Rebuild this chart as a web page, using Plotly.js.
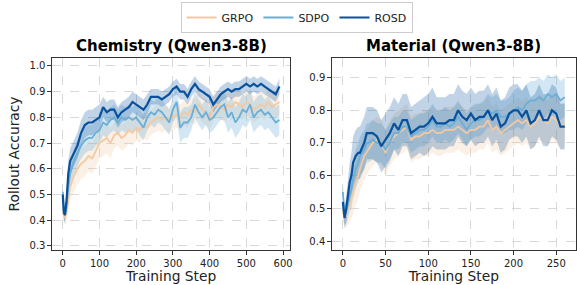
<!DOCTYPE html>
<html><head><meta charset="utf-8">
<script src="https://cdn.plot.ly/plotly-3.0.1.min.js"></script>
<style>body{margin:0;padding:0;background:#fff}#plot{width:577px;height:285px}</style>
</head><body><div id="plot"></div>
<script>
// ---- Chemistry (Qwen3-8B) ----
const chemSteps = [0,3,6,10,15,20,30,40,50,60,70,80,90,100,110,120,130,140,150,160,170,180,190,200,210,220,230,240,250,260,270,280,290,300,310,320,330,340,350,360,370,380,390,400,410,420,430,440,450,460,470,480,490,500,510,520,530,540,550,560,570,580,590];
const chemROSD = [0.50,0.43,0.42,0.47,0.58,0.63,0.66,0.69,0.74,0.77,0.78,0.78,0.79,0.80,0.84,0.82,0.83,0.83,0.80,0.82,0.83,0.84,0.86,0.85,0.84,0.83,0.85,0.88,0.88,0.88,0.87,0.88,0.89,0.91,0.92,0.90,0.90,0.88,0.91,0.93,0.91,0.90,0.89,0.88,0.85,0.87,0.89,0.90,0.91,0.90,0.91,0.91,0.92,0.93,0.92,0.93,0.92,0.93,0.92,0.91,0.90,0.89,0.92];
const chemSDPO = [0.51,0.44,0.42,0.45,0.53,0.58,0.63,0.66,0.69,0.71,0.72,0.72,0.74,0.75,0.78,0.77,0.79,0.80,0.78,0.80,0.79,0.80,0.79,0.80,0.78,0.76,0.80,0.82,0.81,0.83,0.82,0.80,0.78,0.83,0.86,0.76,0.78,0.78,0.80,0.85,0.82,0.80,0.82,0.79,0.80,0.82,0.84,0.85,0.80,0.82,0.78,0.80,0.83,0.82,0.85,0.80,0.82,0.83,0.81,0.82,0.80,0.78,0.79];
const chemGRPO = [0.43,0.42,0.41,0.43,0.48,0.53,0.57,0.60,0.62,0.63,0.65,0.64,0.67,0.70,0.71,0.72,0.70,0.73,0.74,0.72,0.73,0.75,0.74,0.76,0.75,0.77,0.76,0.78,0.79,0.80,0.79,0.80,0.79,0.80,0.81,0.80,0.82,0.81,0.83,0.82,0.85,0.83,0.82,0.80,0.84,0.85,0.84,0.83,0.85,0.84,0.86,0.85,0.84,0.86,0.85,0.83,0.84,0.85,0.84,0.86,0.84,0.85,0.86];
const chemROSDspread = [0.03,0.03,0.03,0.04,0.05,0.05,0.05,0.05,0.05,0.05,0.05,0.05,0.05,0.05,0.04,0.04,0.04,0.04,0.04,0.04,0.04,0.04,0.04,0.04,0.04,0.04,0.04,0.03,0.03,0.03,0.03,0.03,0.03,0.03,0.03,0.03,0.03,0.03,0.03,0.03,0.03,0.03,0.03,0.03,0.03,0.03,0.03,0.03,0.03,0.03,0.03,0.03,0.03,0.03,0.03,0.03,0.03,0.03,0.03,0.03,0.03,0.03,0.03];
const chemSDPOspread = [0.03,0.03,0.03,0.04,0.05,0.05,0.05,0.05,0.05,0.05,0.05,0.05,0.05,0.05,0.05,0.05,0.05,0.05,0.05,0.05,0.05,0.05,0.05,0.05,0.05,0.05,0.05,0.05,0.05,0.05,0.05,0.05,0.05,0.05,0.06,0.06,0.06,0.06,0.05,0.05,0.05,0.05,0.05,0.05,0.05,0.05,0.05,0.06,0.06,0.06,0.06,0.06,0.06,0.06,0.06,0.06,0.06,0.06,0.06,0.06,0.06,0.06,0.06];
const chemGRPOspread = [0.03,0.03,0.03,0.04,0.05,0.05,0.06,0.06,0.06,0.06,0.06,0.06,0.06,0.06,0.06,0.06,0.06,0.05,0.05,0.05,0.05,0.05,0.05,0.05,0.05,0.05,0.05,0.05,0.05,0.05,0.05,0.05,0.05,0.05,0.05,0.05,0.05,0.05,0.05,0.05,0.05,0.05,0.05,0.05,0.05,0.05,0.05,0.05,0.05,0.05,0.05,0.05,0.05,0.05,0.05,0.05,0.05,0.05,0.05,0.05,0.05,0.05,0.05];

// ---- Material (Qwen3-8B) ----
const matSteps = [0,2,4,6,8,10,12,15,18,20,25,28,30,35,40,45,50,55,60,65,70,75,80,85,90,95,100,105,110,115,120,125,130,135,140,145,150,155,160,165,170,175,180,185,190,195,200,205,210,215,220,225,230,235,240,245,250,255,260];
const matROSD = [0.52,0.47,0.50,0.55,0.58,0.60,0.64,0.66,0.67,0.67,0.70,0.73,0.73,0.73,0.72,0.69,0.71,0.73,0.76,0.74,0.77,0.77,0.73,0.74,0.75,0.75,0.76,0.78,0.76,0.76,0.76,0.77,0.77,0.80,0.78,0.77,0.79,0.77,0.78,0.78,0.80,0.77,0.79,0.75,0.76,0.79,0.80,0.80,0.78,0.80,0.76,0.77,0.80,0.77,0.77,0.80,0.79,0.75,0.75];
const matSDPO = [0.55,0.48,0.49,0.52,0.54,0.56,0.59,0.62,0.64,0.66,0.68,0.70,0.70,0.71,0.70,0.70,0.68,0.70,0.73,0.73,0.75,0.75,0.72,0.73,0.74,0.74,0.75,0.77,0.75,0.75,0.76,0.75,0.76,0.78,0.76,0.74,0.76,0.77,0.77,0.78,0.80,0.79,0.80,0.78,0.78,0.79,0.80,0.81,0.80,0.82,0.83,0.83,0.84,0.83,0.85,0.84,0.85,0.83,0.84];
const matGRPO = [0.49,0.47,0.48,0.50,0.51,0.53,0.55,0.58,0.60,0.62,0.66,0.67,0.68,0.70,0.71,0.70,0.67,0.70,0.72,0.73,0.74,0.75,0.71,0.72,0.72,0.73,0.73,0.74,0.73,0.73,0.74,0.74,0.74,0.75,0.74,0.73,0.74,0.74,0.75,0.75,0.77,0.74,0.75,0.73,0.74,0.75,0.76,0.77,0.76,0.77,0.75,0.76,0.78,0.77,0.76,0.78,0.77,0.75,0.76];
const matROSDspread = [0.03,0.03,0.04,0.05,0.06,0.07,0.08,0.08,0.08,0.08,0.08,0.08,0.08,0.08,0.08,0.08,0.08,0.08,0.08,0.08,0.08,0.08,0.08,0.08,0.08,0.09,0.09,0.09,0.08,0.08,0.08,0.08,0.08,0.08,0.08,0.08,0.08,0.08,0.08,0.08,0.08,0.08,0.08,0.08,0.08,0.08,0.08,0.08,0.08,0.08,0.08,0.08,0.08,0.08,0.08,0.08,0.08,0.07,0.07];
const matSDPOspread = [0.03,0.03,0.04,0.05,0.05,0.06,0.06,0.06,0.06,0.06,0.06,0.06,0.06,0.06,0.06,0.06,0.06,0.06,0.05,0.05,0.05,0.05,0.05,0.05,0.05,0.05,0.05,0.05,0.05,0.05,0.05,0.05,0.05,0.05,0.05,0.05,0.05,0.05,0.05,0.05,0.05,0.05,0.05,0.05,0.05,0.05,0.06,0.06,0.06,0.06,0.06,0.06,0.06,0.06,0.06,0.06,0.06,0.06,0.06];
const matGRPOspread = [0.03,0.03,0.04,0.05,0.05,0.06,0.07,0.07,0.07,0.07,0.07,0.07,0.07,0.07,0.07,0.07,0.07,0.07,0.07,0.07,0.07,0.07,0.07,0.07,0.07,0.07,0.07,0.07,0.07,0.07,0.07,0.07,0.07,0.07,0.07,0.07,0.07,0.07,0.07,0.07,0.07,0.07,0.07,0.07,0.07,0.07,0.07,0.07,0.07,0.07,0.07,0.07,0.07,0.07,0.07,0.07,0.07,0.07,0.07];

const seriesNames = ['GRPO','SDPO','ROSD'];
const lineColors = {GRPO:'#f2c9a1', SDPO:'#6baed6', ROSD:'#08519c'};
const bandColors = {GRPO:'rgba(242,201,161,0.28)', SDPO:'rgba(107,174,214,0.30)', ROSD:'rgba(8,81,156,0.25)'};
const lineWidths = {GRPO:1.8, SDPO:1.8, ROSD:2.2};

const panels = [
  {steps: chemSteps, data:{GRPO:chemGRPO, SDPO:chemSDPO, ROSD:chemROSD}, spread:{GRPO:chemGRPOspread, SDPO:chemSDPOspread, ROSD:chemROSDspread}, xa:'x', ya:'y'},
  {steps: matSteps, data:{GRPO:matGRPO, SDPO:matSDPO, ROSD:matROSD}, spread:{GRPO:matGRPOspread, SDPO:matSDPOspread, ROSD:matROSDspread}, xa:'x2', ya:'y2'}
];

const traces = [];
panels.forEach((p, pi) => {
  seriesNames.forEach(name => {
    const y = p.data[name], s = p.spread[name];
    const up = y.map((v,i)=>v+s[i]);
    const lo = y.map((v,i)=>v-s[i]);
    traces.push({x: p.steps.concat(p.steps.slice().reverse()), y: up.concat(lo.slice().reverse()),
      fill:'toself', fillcolor: bandColors[name], line:{width:0}, mode:'lines', hoverinfo:'skip',
      showlegend:false, xaxis:p.xa, yaxis:p.ya});
  });
  seriesNames.forEach(name => {
    traces.push({x: p.steps, y: p.data[name], mode:'lines', name:name,
      line:{color: lineColors[name], width: lineWidths[name]},
      showlegend: pi===0, xaxis:p.xa, yaxis:p.ya});
  });
});

const axisBase = {showline:true, mirror:true, linecolor:'#333', linewidth:1, ticks:'outside', ticklen:3.5,
  tickcolor:'#333', showgrid:true, gridcolor:'#d0d0d0', griddash:'dash', gridwidth:0.8, zeroline:false,
  tickfont:{family:'DejaVu Sans', size:10, color:'#222'}};
const titleFont = {family:'DejaVu Sans', size:13.8, color:'#222'};

const layout = {
  width:577, height:285, margin:{l:0,r:0,t:0,b:0}, paper_bgcolor:'#fff', plot_bgcolor:'#fff',
  showlegend:true,
  legend:{orientation:'h', x:0.514, xanchor:'center', y:0.993, yanchor:'top', bordercolor:'#cccccc', borderwidth:1,
    font:{family:'DejaVu Sans', size:11, color:'#222'}, itemwidth:30, tracegroupgap:0},
  xaxis: Object.assign({}, axisBase, {domain:[0.090,0.503], range:[-29.5,619.5], tickvals:[0,100,200,300,400,500,600],
    anchor:'y', title:{text:'Training Step', font:titleFont, standoff:1}}),
  yaxis: Object.assign({}, axisBase, {domain:[0.1228,0.7965], range:[0.284,1.031], tickvals:[0.3,0.4,0.5,0.6,0.7,0.8,0.9,1.0],
    tickformat:'.1f', title:{text:'Rollout Accuracy', font:titleFont, standoff:6}}),
  xaxis2: Object.assign({}, axisBase, {domain:[0.575,0.998], range:[-13,273], tickvals:[0,50,100,150,200,250],
    anchor:'y2', title:{text:'Training Step', font:titleFont, standoff:1}}),
  yaxis2: Object.assign({}, axisBase, {domain:[0.1228,0.7965], range:[0.3725,0.96], tickvals:[0.4,0.5,0.6,0.7,0.8,0.9],
    tickformat:'.1f', anchor:'x2'}),
  annotations:[
    {text:'<b>Chemistry (Qwen3-8B)</b>', xref:'paper', yref:'paper', x:(0.090+0.503)/2, y:0.80, xanchor:'center', yanchor:'bottom',
      showarrow:false, font:{family:'DejaVu Sans', size:15, color:'#000'}},
    {text:'<b>Material (Qwen3-8B)</b>', xref:'paper', yref:'paper', x:(0.575+0.998)/2, y:0.80, xanchor:'center', yanchor:'bottom',
      showarrow:false, font:{family:'DejaVu Sans', size:15, color:'#000'}}
  ]
};
Plotly.newPlot('plot', traces, layout, {displayModeBar:false, staticPlot:true});
</script></body></html>
